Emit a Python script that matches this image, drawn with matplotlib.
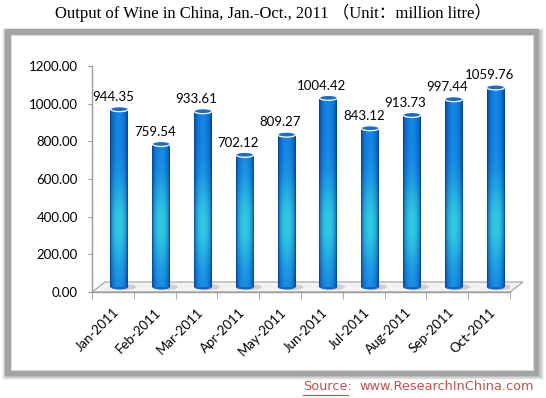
import numpy as np
import matplotlib.pyplot as plt
import matplotlib.transforms as mtransforms
from matplotlib.patches import Rectangle, Ellipse, Polygon

months = ['Jan-2011', 'Feb-2011', 'Mar-2011', 'Apr-2011', 'May-2011',
          'Jun-2011', 'Jul-2011', 'Aug-2011', 'Sep-2011', 'Oct-2011']
output = [944.35, 759.54, 933.61, 702.12, 809.27,
          1004.42, 843.12, 913.73, 997.44, 1059.76]
yticks = [0, 200, 400, 600, 800, 1000, 1200]

W, H = 546, 398
fig = plt.figure(figsize=(W / 100, H / 100), dpi=100)
fig.patch.set_facecolor('white')

# frame round the chart (pixel coords -> figure fraction)
def fr(x0, y0, x1, y1):
    return (x0 / W, 1 - y1 / H), (x1 - x0) / W, (y1 - y0) / H

for k, a in enumerate([0.05, 0.07, 0.09, 0.12]):
    xy, w, h = fr(3 + k, 29 + k, 542 - k, 378 - k)
    fig.patches.append(Rectangle(xy, w, h, transform=fig.transFigure, zorder=-5,
                                 facecolor='none', edgecolor='black', alpha=a, lw=2))
xy, w, h = fr(8, 32, 536, 373)
fig.patches.append(Rectangle(xy, w, h, transform=fig.transFigure, zorder=-4,
                             facecolor='white', edgecolor='#a3a3a3', lw=4.5))
xy, w, h = fr(11, 35, 533, 370)
fig.patches.append(Rectangle(xy, w, h, transform=fig.transFigure, zorder=-3,
                             facecolor='white', edgecolor='#d8d8d8', lw=0.8))

fig.text(0.5, 1 - 13 / H, 'Output of Wine in China, Jan.-Oct., 2011 （Unit：million litre）',
         ha='center', va='center', fontsize=12,
         family=['Liberation Serif', 'Noto Sans CJK SC'])

ax = fig.add_axes([92 / W, 1 - 292 / H, (510 - 92) / W, (292 - 66) / H])
ax.set_facecolor('none')
ax.set_xlim(-0.5, len(months) - 0.5)
ax.set_ylim(0, 1200)
for s in ['top', 'right']:
    ax.spines[s].set_visible(False)
for s in ['left', 'bottom']:
    ax.spines[s].set_color('#9a9a9a')
    ax.spines[s].set_linewidth(1.0)

ax.set_yticks(yticks)
ax.set_yticklabels(['%.2f' % v for v in yticks], family='Lato', fontsize=9.5)
ax.tick_params(axis='y', length=3, color='#9a9a9a', pad=7)
ax.set_xticks(range(len(months)))
ax.set_xticklabels(months, rotation=45, ha='right', rotation_mode='anchor',
                   family='Lato', fontsize=9.5)
ax.tick_params(axis='x', which='major', length=0, pad=10)
ax.set_xticks(np.arange(-0.5, len(months)), minor=True)
ax.tick_params(axis='x', which='minor', length=5, color='#9a9a9a')

# floor of the 3d plot, depth in pixels
fig.canvas.draw()
dx, dy = 13, 10
p0 = ax.transData.transform((-0.5, 0))
p1 = ax.transData.transform((len(months) - 0.5, 0))
floor = Polygon([p0, p1, p1 + [dx, dy], p0 + [dx, dy]], closed=True,
                transform=mtransforms.IdentityTransform(), clip_on=False,
                facecolor='#f2f2f2', edgecolor='#a0a0a0', lw=0.8, zorder=1)
ax.add_artist(floor)

# bars as cylinders, set half way into the depth
off = mtransforms.offset_copy(ax.transData, fig=fig, x=dx / 2, y=dy / 2, units='dots')
bw = 0.43
ell_h = 5 * 1200 / 226

dark = np.array([0.02, 0.24, 0.58])
mid = np.array([0.08, 0.52, 0.90])
cyan = np.array([0.22, 0.86, 0.88])
t = np.linspace(-1, 1, 40)
prof = (1 - t ** 2) ** 0.7

for i, v in enumerate(output):
    yy = np.linspace(0, v, 120)[:, None]
    glow = np.exp(-((yy - 330) / 230) ** 2)
    base = dark + (mid - dark) * prof[None, :, None]
    img = base + (cyan - base) * (glow[..., None] * prof[None, :, None] * 0.8)
    img = np.clip(img, 0, 1)
    # shadow at base
    ax.add_patch(Ellipse((i + 0.12, 0), bw * 1.3, ell_h * 1.2, transform=off,
                         facecolor='#b8b8b8', edgecolor='none', alpha=0.6, zorder=2))
    ax.add_patch(Ellipse((i, 0), bw, ell_h, transform=off,
                         facecolor='#1565c0', edgecolor='none', zorder=3))
    im = ax.imshow(img, extent=[i - bw / 2, i + bw / 2, 0, v], origin='lower',
                   aspect='auto', zorder=3, interpolation='bilinear')
    im.set_transform(off)
    ax.add_patch(Ellipse((i, v), bw, ell_h, transform=off,
                         facecolor='#1a6fc4', edgecolor='white', lw=0.9, zorder=4))
    ax.annotate('%.2f' % v, (i, v), xytext=(0, 8), textcoords='offset points',
                ha='center', va='bottom', family='Lato', fontsize=9.5, zorder=5)

ax.set_xlim(-0.5, len(months) - 0.5)
ax.set_ylim(0, 1200)

# source line
red = '#c0504d'
t1 = fig.text(303 / W, 1 - 390 / H, 'Source:', color=red, fontsize=9.3,
              family='DejaVu Sans', va='baseline')
fig.text(359 / W, 1 - 390 / H, 'www.ResearchInChina.com', color=red, fontsize=9.3,
         family='DejaVu Sans', va='baseline')
fig.canvas.draw()
bb = t1.get_window_extent()
fig.add_artist(plt.Line2D([bb.x0, bb.x1 - 4], [bb.y0 - 1.5, bb.y0 - 1.5],
                          transform=None, color=red, lw=0.8))

fig.savefig('out.png', dpi=100)
